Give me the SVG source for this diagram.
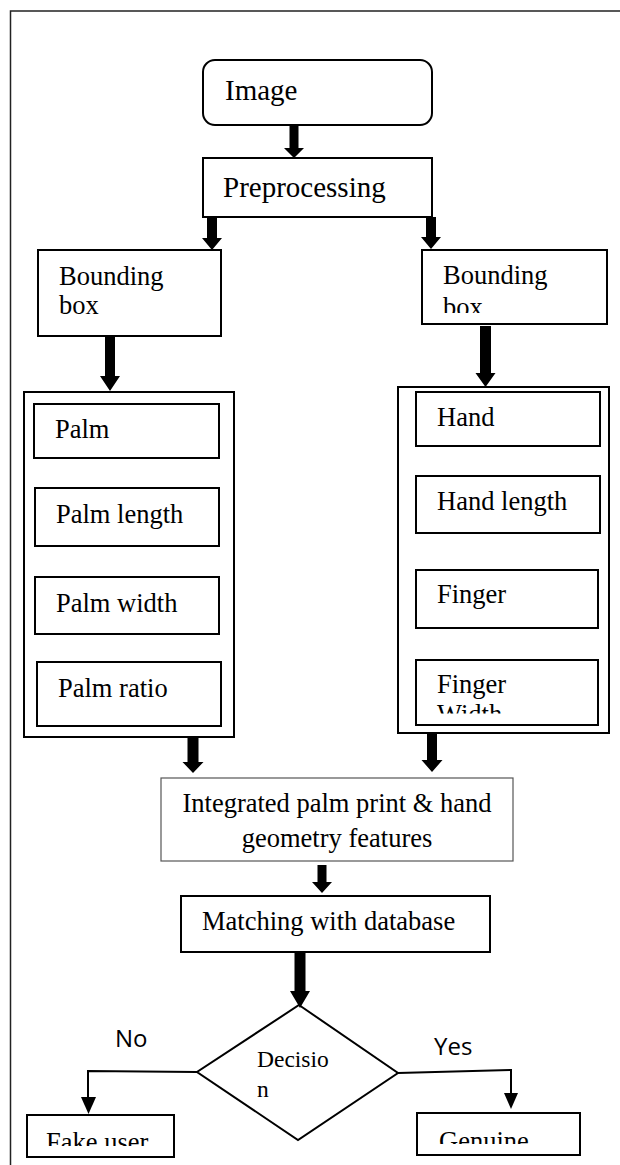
<svg xmlns="http://www.w3.org/2000/svg" width="620" height="1165" viewBox="0 0 620 1165">
<style>
.box{fill:#fff;stroke:#000;stroke-width:2}
.thin{fill:#fff;stroke:#555;stroke-width:1.2}
.t{font-family:"Liberation Serif","Times New Roman",serif;font-size:26.5px;fill:#000}
.big{font-size:29px}
.s{font-family:"Open Sans","Liberation Sans",Arial,sans-serif;font-size:24px;fill:#000}
.ar{fill:#000}
.ln{fill:none;stroke:#000;stroke-width:2}
</style>
<defs>
<clipPath id="cRB"><rect x="422" y="250" width="185" height="63"/></clipPath>
<clipPath id="cFW"><rect x="416" y="660" width="182" height="53.5"/></clipPath>
<clipPath id="cFU"><rect x="27" y="1115" width="147" height="31"/></clipPath>
<clipPath id="cGE"><rect x="417" y="1113" width="163" height="31"/></clipPath>
</defs>
<rect x="10.5" y="11" width="620" height="1170" fill="none" stroke="#222" stroke-width="1.5"/>

<g id="image"><rect class="box" x="203" y="60" width="229" height="65" rx="12"/><text class="t big" x="225" y="100">Image</text></g>
<g id="preprocessing"><rect class="box" x="203" y="158" width="229" height="59"/><text class="t big" x="223" y="197">Preprocessing</text></g>
<g id="bbox-left"><rect class="box" x="38" y="250" width="183" height="86"/><text class="t" x="59" y="285">Bounding</text><text class="t" x="59" y="314">box</text></g>
<g id="bbox-right"><rect class="box" x="422" y="250" width="185" height="74"/><g clip-path="url(#cRB)"><text class="t" x="443" y="284">Bounding</text><text class="t" x="443" y="316">box</text></g></g>

<g id="palm-group"><rect class="box" x="24" y="392" width="210" height="345"/>
<g id="palm"><rect class="box" x="34" y="404" width="185" height="54"/><text class="t" x="55" y="438">Palm</text></g>
<g id="palm-length"><rect class="box" x="35" y="488" width="184" height="58"/><text class="t" x="56" y="523">Palm length</text></g>
<g id="palm-width"><rect class="box" x="35" y="577" width="184" height="57"/><text class="t" x="56" y="612">Palm width</text></g>
<g id="palm-ratio"><rect class="box" x="37" y="662" width="184" height="64"/><text class="t" x="58" y="697">Palm ratio</text></g>
</g>

<g id="hand-group"><rect class="box" x="398" y="387" width="211" height="346"/>
<g id="hand"><rect class="box" x="416" y="392" width="184" height="54"/><text class="t" x="437" y="426">Hand</text></g>
<g id="hand-length"><rect class="box" x="416" y="476" width="184" height="57"/><text class="t" x="437" y="510">Hand length</text></g>
<g id="finger"><rect class="box" x="416" y="570" width="182" height="58"/><text class="t" x="437" y="603">Finger</text></g>
<g id="finger-width"><rect class="box" x="416" y="660" width="182" height="65"/><g clip-path="url(#cFW)"><text class="t" x="437" y="693">Finger</text><text class="t" x="437" y="723">Width</text></g></g>
</g>

<g id="integrated"><rect class="thin" x="161" y="778" width="352" height="83"/><text class="t" x="337" y="812" text-anchor="middle">Integrated palm print &amp; hand</text><text class="t" x="337" y="847" text-anchor="middle">geometry features</text></g>
<g id="matching"><rect class="box" x="181" y="896" width="309" height="56"/><text class="t" x="202" y="930">Matching with database</text></g>
<g id="decision"><polygon class="box" points="299,1005 398,1073 298,1140 197,1072"/><text class="t" x="257" y="1067" style="font-size:23.5px">Decisio</text><text class="t" x="257" y="1097" style="font-size:23.5px">n</text></g>
<g id="fake-user"><rect class="box" x="27" y="1115" width="147" height="42"/><g clip-path="url(#cFU)"><text class="t" x="46" y="1151">Fake user</text></g></g>
<g id="genuine"><rect class="box" x="417" y="1113" width="163" height="42"/><g clip-path="url(#cGE)"><text class="t" x="439" y="1150">Genuine</text></g></g>

<g id="connectors">
<polygon class="ar" points="289.5,125 298.5,125 298.5,148 304,148 294,158 284,148 289.5,148"/>
<polygon class="ar" points="207,217 217,217 217,238 222,238 212,250 202,238 207,238"/>
<polygon class="ar" points="426,217 436,217 436,237 441,237 431,249 421,237 426,237"/>
<polygon class="ar" points="105,336 115,336 115,376 120,376 110,391 100,376 105,376"/>
<polygon class="ar" points="480,326 491,326 491,373 495.5,373 485.5,387 475.5,373 480,373"/>
<polygon class="ar" points="187.5,737 198.5,737 198.5,762 203.5,762 193,773 182.5,762 187.5,762"/>
<polygon class="ar" points="427,733 437,733 437,760 442.5,760 432,772 421.5,760 427,760"/>
<polygon class="ar" points="317.5,865 326.5,865 326.5,882 332,882 322,893 312,882 317.5,882"/>
<polygon class="ar" points="294.5,952 305.5,952 305.5,991 310,991 300,1008 290,991 294.5,991"/>
<path class="ln" d="M197,1072 L88,1071 L88,1098"/>
<polygon class="ar" points="81,1097 96,1097 88.5,1114"/>
<path class="ln" d="M398,1073 L511,1070 L511,1094"/>
<polygon class="ar" points="504,1093 518,1093 511,1109"/>
<text class="s" x="115" y="1047">No</text>
<text class="s" x="434" y="1055">Yes</text>
</g>
</svg>
